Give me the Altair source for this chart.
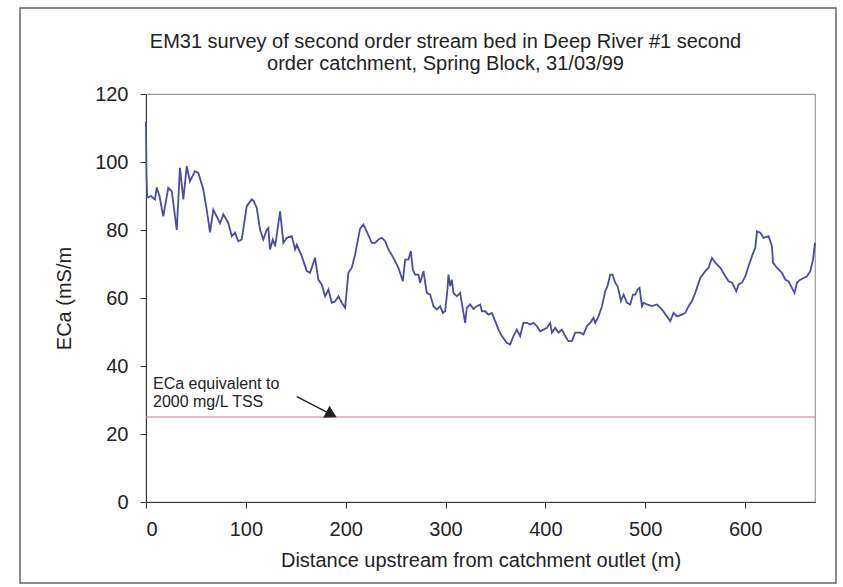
import altair as alt
import pandas as pd

# EM31 apparent conductivity along the stream bed (distance in m, ECa in mS/m)
distance_m = [
    0, 0.5, 1.2, 5, 9, 10.7, 13.5, 17.3, 22.3, 25.8, 30.8, 34, 37.4, 40.8, 44,
    49, 52.4, 57.4, 60.8, 64.1, 67.4, 70.8, 74.1, 77.5, 82.5, 85.9, 89.2, 92.5,
    95.9, 100.9, 105.9, 108, 110.9, 114.2, 117.5, 120.9, 122.5, 124.2, 127,
    129.3, 134.3, 137.6, 141, 146, 149.3, 151, 156, 161, 164.3, 169.3, 172.6,
    176, 179.4, 182.7, 186, 189.4, 192.7, 196.1, 199.4, 202.7, 206.1, 209.4,
    214.4, 217.7, 219.4, 222.7, 226.2, 229.5, 232.8, 236.2, 239.5, 242.8,
    247.8, 252.8, 257.2, 259.5, 262.8, 265.2, 267.2, 269.5, 272.8, 274.5,
    277.9, 279.6, 281.3, 284.6, 287.9, 291.3, 294.6, 297.3, 299.6, 301.9,
    302.9, 304.6, 306.3, 307.9, 311.3, 314.6, 317.9, 319.6, 321.3, 324.6, 328,
    331.4, 334.7, 336.4, 339.7, 343, 346.4, 349.7, 353, 356.4, 361.4, 364.7,
    368, 371.4, 374.7, 378, 381.5, 384.8, 388.1, 391.5, 394.8, 398.1, 401.5,
    404.8, 406.5, 409.8, 413.1, 416.5, 419.8, 423.1, 426.5, 429.8, 434.9,
    438.2, 441.6, 444.9, 448.2, 449.9, 453.2, 456.6, 459.9, 462.2, 464.9,
    467.2, 469.9, 472.2, 474.3, 475.6, 478.3, 481.7, 485, 487.7, 490, 492.3,
    494.3, 496.7, 498.3, 501.7, 506.7, 511.7, 516.7, 521.7, 525, 528.4, 531.8,
    536.8, 540.1, 543.4, 546.8, 550.1, 555.1, 560.1, 563.4, 566.8, 570.1,
    575.2, 580.2, 583.5, 586.9, 591.2, 593.5, 596.9, 600.2, 603.5, 606.9,
    610.2, 611.9, 615.2, 618.5, 623.5, 626.9, 627.9, 631.9, 636.9, 640.3,
    643.6, 646.9, 649.5, 651.9, 655.2, 658.6, 661.9, 665.3, 668, 670,
]
eca_mS_m = [
    112, 96, 89.5, 90, 89, 92.5, 90, 84, 92.4, 91.4, 80, 98.3, 89, 98.8, 94.3,
    97.3, 96.8, 91.9, 86, 79.3, 86, 84, 82, 84.6, 82, 78.2, 79.2, 76.7,
    77.2, 87, 89, 88.5, 86.5, 80.1, 77.2, 80.1, 80.6, 74.3, 77.2,
    75.2, 85.5, 76.2, 77.7, 78.2, 74.3, 75.7, 72.3, 67.9, 67.4, 71.8, 65.4,
    64, 60.5, 62.5, 58.6, 59, 60.5, 58.6, 57.1, 67.4, 68.9, 72.8,
    80.4, 81.6, 80.6, 78.5, 76.2, 76.2, 77.2, 77.7, 76.7, 74.3,
    71.8, 68.9, 64.9, 71.3, 71.3, 73.8, 68.4, 66.9, 66.9, 64.5,
    67.9, 64.5, 61.5, 61, 57.6, 56.6, 57.6, 55.6, 56.1, 62.5,
    66.9, 63.5, 65.4, 61.5, 60.5, 61.5, 55.6, 52.7, 57.1, 58.1, 56.8,
    57.6, 58.1, 56.1, 56.1, 55.1, 55.6, 53.2, 50.7, 48.8, 46.8, 46.3,
    48.8, 50.7, 48.8, 52.7, 52.7, 52.2, 52.7, 51.7, 50.2, 50.7, 51.2,
    52.7, 49.8, 51.2, 49.8, 50.7, 48.8, 47.3, 47.3, 49.8, 49.8,
    49.3, 51.7, 52.7, 54.2, 52.7, 54.6, 57.6, 62, 63.5, 66.9,
    66.9, 64.5, 63.5, 61, 59.1, 61, 58.6, 58.1, 61, 61, 62.5,
    63, 57.6, 58.6, 58.1, 57.6, 58.1, 56.6, 54.6, 53.2, 55.6, 54.6,
    55.1, 55.6, 57.6, 59.1, 61.5, 65.9, 67.9, 68.9, 71.8, 70.4,
    68.9, 66.4, 64.9, 64.5, 62, 64, 64.5, 66.4, 69.4, 72.3,
    74.8, 79.6, 79.2, 77.7, 78.2, 75.2, 70.4, 68.9, 67.4, 65.4,
    64.9, 63, 61.5, 64.5, 65.4, 65.9, 66.4, 67.9, 71.3, 76.2,
]

# ECa equivalent to 2000 mg/L total suspended solids
threshold_eca = [25]

note_lines = ["ECa equivalent to", "2000 mg/L TSS"]
x_ticks = [0, 100, 200, 300, 400, 500, 600]
y_ticks = [0, 20, 40, 60, 80, 100, 120]

FONT = "Liberation Sans"
X_DOMAIN = [0, 670]
Y_DOMAIN = [0, 120]

survey = pd.DataFrame({"distance": distance_m, "eca": eca_mS_m})
threshold = pd.DataFrame({"eca": threshold_eca})
note = pd.DataFrame({"x": [7, 7], "y": [34.8, 29.3], "text": note_lines})
arrow = pd.DataFrame({"x": [151], "y": [31], "x2": [184], "y2": [26]})

x_scale = alt.Scale(domain=X_DOMAIN, nice=False)
y_scale = alt.Scale(domain=Y_DOMAIN, nice=False)

x_axis = alt.Axis(
    values=x_ticks, tickSize=6, labelPadding=11, titlePadding=11,
    grid=False, domainColor="#333", tickColor="#333", labelColor="#222",
    titleColor="#222", labelFont=FONT, titleFont=FONT, labelFontSize=20,
    titleFontSize=20, titleFontWeight="normal",
)
y_axis = alt.Axis(
    values=y_ticks, tickSize=6, labelPadding=12, titlePadding=20,
    grid=False, domainColor="#333", tickColor="#333", labelColor="#222",
    titleColor="#222", labelFont=FONT, titleFont=FONT, labelFontSize=20,
    titleFontSize=20, titleFontWeight="normal",
)

line = alt.Chart(survey).mark_line(color="#4a4c9e", strokeWidth=1.8).encode(
    x=alt.X("distance:Q", scale=x_scale, axis=x_axis,
            title="Distance upstream from catchment outlet (m)"),
    y=alt.Y("eca:Q", scale=y_scale, axis=y_axis, title="ECa (mS/m"),
)

limit = alt.Chart(threshold).mark_rule(color="#d9709a", strokeWidth=1.2).encode(
    y=alt.Y("eca:Q", scale=y_scale),
)

labels = alt.Chart(note).mark_text(
    align="left", baseline="middle", font=FONT, fontSize=16, color="#222",
).encode(
    x=alt.X("x:Q", scale=x_scale),
    y=alt.Y("y:Q", scale=y_scale),
    text="text:N",
)

shaft = alt.Chart(arrow).mark_rule(color="#222", strokeWidth=1.6).encode(
    x=alt.X("x:Q", scale=x_scale),
    y=alt.Y("y:Q", scale=y_scale),
    x2="x2:Q",
    y2="y2:Q",
)

head = alt.Chart(arrow).mark_point(
    shape="triangle", filled=True, size=180, angle=118, color="#222", opacity=1,
).encode(
    x=alt.X("x2:Q", scale=x_scale),
    y=alt.Y("y2:Q", scale=y_scale),
)

# chart-area border drawn around everything
border = alt.Chart(pd.DataFrame({"k": [0]})).mark_rect(
    fillOpacity=0, stroke="#666", strokeWidth=1.5,
).encode(
    x=alt.value(-126), x2=alt.value(690), y=alt.value(-86), y2=alt.value(489),
)

chart = alt.layer(border, limit, line, shaft, head, labels).properties(
    width=669,
    height=408,
    autosize=alt.AutoSizeParams(type="none"),
    padding={"left": 146, "top": 94, "right": 28, "bottom": 85},
    background="white",
    title=alt.TitleParams(
        text=[
            "EM31 survey of second order stream bed in Deep River #1 second",
            "order catchment, Spring Block, 31/03/99",
        ],
        font=FONT, fontSize=20, fontWeight="normal", color="#222",
        anchor="middle", dx=-35, offset=0, dy=87, baseline="bottom",
        lineHeight=22,
    ),
).configure_view(stroke="#999", strokeWidth=1.2)

chart.save("out.html", embed_options={"renderer": "svg", "actions": False})
